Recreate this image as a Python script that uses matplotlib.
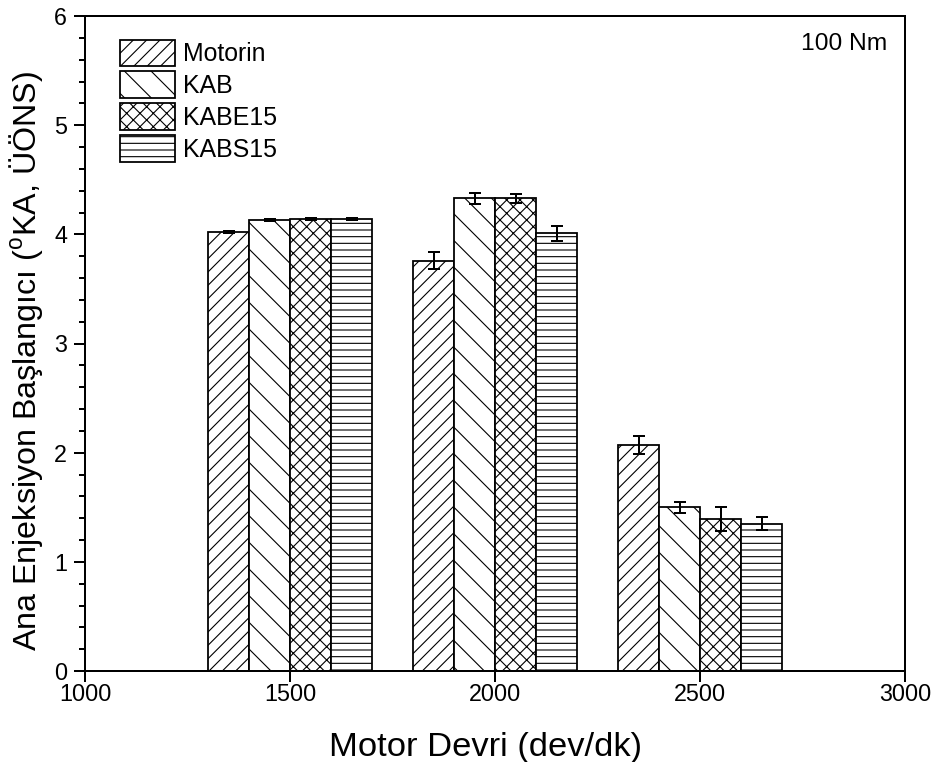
import matplotlib
matplotlib.use("Agg")
import matplotlib.pyplot as plt
import numpy as np

plt.rcParams["font.family"] = ["Liberation Sans", "DejaVu Sans"]
plt.rcParams["mathtext.fontset"] = "custom"
plt.rcParams["mathtext.rm"] = "Liberation Sans"
plt.rcParams["hatch.linewidth"] = 1.0
plt.rcParams["hatch.color"] = "black"

# engine speed groups and fuels
speeds = [1500, 2000, 2500]
fuels = ["Motorin", "KAB", "KABE15", "KABS15"]
hatches = ["//", "\\", "xx", "--"]

# start of main injection (deg CA bTDC) and standard deviation
motorin = [4.02, 3.76, 2.07]
motorin_err = [0.01, 0.08, 0.08]
kab = [4.13, 4.33, 1.50]
kab_err = [0.01, 0.05, 0.05]
kabe15 = [4.14, 4.33, 1.39]
kabe15_err = [0.01, 0.04, 0.11]
kabs15 = [4.14, 4.01, 1.35]
kabs15_err = [0.01, 0.07, 0.06]

values = [motorin, kab, kabe15, kabs15]
errors = [motorin_err, kab_err, kabe15_err, kabs15_err]

dpi = 80
fig = plt.figure(figsize=(931 / dpi, 762 / dpi), dpi=dpi)
ax = fig.add_axes([85 / 931, 91 / 762, 820 / 931, 655 / 762])

bar_w = 100
x = np.array(speeds)
handles = []
for i, (fuel, vals, errs, h) in enumerate(zip(fuels, values, errors, hatches)):
    pos = x + (i - 1.5) * bar_w
    b = ax.bar(pos, vals, width=bar_w, color="white", edgecolor="black",
               linewidth=1.6, hatch=h, label=fuel, zorder=2)
    ax.errorbar(pos, vals, yerr=errs, fmt="none", ecolor="black",
                elinewidth=1.8, capsize=5.5, capthick=1.8, zorder=3)
    handles.append(b)

ax.set_xlim(1000, 3000)
ax.set_ylim(0, 6)
ax.set_xticks([1000, 1500, 2000, 2500, 3000])
ax.set_yticks(range(0, 7))
ax.set_yticks(np.arange(0, 6.01, 0.2), minor=True)

for s in ax.spines.values():
    s.set_linewidth(1.8)

ax.tick_params(axis="both", which="major", direction="out", length=10,
               width=1.8, labelsize=21)
ax.tick_params(axis="y", which="minor", direction="out", length=5, width=1.8)
ax.tick_params(axis="x", which="major", pad=1)
ax.tick_params(axis="y", which="major", pad=6)

ax.set_xlabel("Motor Devri (dev/dk)", fontsize=31, labelpad=23)
ax.set_ylabel("Ana Enjeksiyon Başlangıcı ($^{\\mathregular{o}}$KA, ÜÖNS)",
              fontsize=29, labelpad=8)
ax.xaxis.label.set_x(0.488)
ax.yaxis.label.set_y(0.474)

ax.text(0.978, 0.957, "100 Nm", transform=ax.transAxes, ha="right",
        va="center", fontsize=22)

ax.legend(handles=handles, loc="upper left", bbox_to_anchor=(0.0427, 0.964),
          frameon=False, fontsize=22.4, borderpad=0, borderaxespad=0,
          handlelength=2.2, handleheight=1.27, labelspacing=0.21,
          handletextpad=0.32)

fig.savefig("out.png", dpi=dpi)
